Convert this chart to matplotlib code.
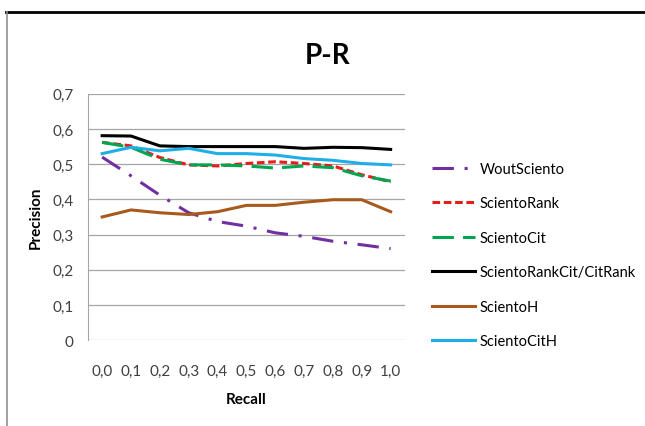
import matplotlib.pyplot as plt
from matplotlib.lines import Line2D
import numpy as np

plt.rcParams['font.family'] = ['Lato', 'DejaVu Sans']

# data
recall = ['0,0', '0,1', '0,2', '0,3', '0,4', '0,5', '0,6', '0,7', '0,8', '0,9', '1,0']
wout_sciento = [0.52, 0.467, 0.412, 0.362, 0.337, 0.324, 0.305, 0.295, 0.281, 0.271, 0.26]
sciento_rank = [0.562, 0.552, 0.519, 0.498, 0.495, 0.502, 0.507, 0.502, 0.495, 0.47, 0.45]
sciento_cit = [0.562, 0.548, 0.514, 0.498, 0.498, 0.495, 0.489, 0.495, 0.49, 0.467, 0.452]
sciento_rankcit = [0.581, 0.58, 0.552, 0.55, 0.55, 0.55, 0.55, 0.545, 0.548, 0.547, 0.542]
sciento_h = [0.35, 0.37, 0.362, 0.357, 0.365, 0.383, 0.383, 0.392, 0.399, 0.399, 0.365]
sciento_cith = [0.53, 0.548, 0.538, 0.545, 0.53, 0.53, 0.526, 0.516, 0.511, 0.502, 0.498]
yticks = [0, 0.1, 0.2, 0.3, 0.4, 0.5, 0.6, 0.7]
ytick_labels = ['0', '0,1', '0,2', '0,3', '0,4', '0,5', '0,6', '0,7']

fig = plt.figure(figsize=(6.45, 4.27), dpi=100)
ax = fig.add_axes([0.136, 0.201, 0.492, 0.577])

x = np.arange(len(recall))
lw = 2.2
ax.plot(x, wout_sciento, color='#7030A0', lw=lw, dashes=(7, 3.5, 1, 3.5), label='WoutSciento')
ax.plot(x, sciento_rank, color='#E0201B', lw=lw, dashes=(2.5, 1.2), label='ScientoRank')
ax.plot(x, sciento_cit, color='#00A550', lw=lw, dashes=(7, 3), label='ScientoCit')
ax.plot(x, sciento_rankcit, color='black', lw=lw, label='ScientoRankCit/CitRank')
ax.plot(x, sciento_h, color='#A8591C', lw=lw, label='ScientoH')
ax.plot(x, sciento_cith, color='#1FAEE5', lw=lw, label='ScientoCitH')

ax.set_xlim(-0.5, len(recall) - 0.5)
ax.set_ylim(0, 0.7)
ax.set_xticks(x)
ax.set_xticklabels(recall, fontsize=11, color='#404040')
ax.set_yticks(yticks)
ax.set_yticklabels(ytick_labels, fontsize=11, color='#404040')
ax.tick_params(axis='y', length=0, pad=10)
ax.tick_params(axis='x', length=0, pad=17)
ax.grid(axis='y', color='#A6A6A6', lw=0.9)
ax.set_axisbelow(True)
for s in ['top', 'right', 'bottom']:
    ax.spines[s].set_visible(False)
ax.spines['left'].set_color('#A6A6A6')
ax.set_xlabel('Recall', fontsize=11, fontweight='bold', labelpad=10)
ax.set_ylabel('Precision', fontsize=11, fontweight='bold', labelpad=7)

fig.text(0.508, 0.87, 'P-R', fontsize=20, fontweight='bold', ha='center', va='center')

ax.legend(loc='upper left', bbox_to_anchor=(0.66, 0.632), bbox_transform=fig.transFigure,
          frameon=False, fontsize=10.5, handlelength=3.0, handletextpad=0.3,
          labelspacing=1.4, borderaxespad=0)

# outer frame lines
fig.add_artist(Line2D([0.009, 1.0], [0.969, 0.969], color='black', lw=2, transform=fig.transFigure))
fig.add_artist(Line2D([0.011, 0.011], [0.0, 0.969], color='#909090', lw=1.2, transform=fig.transFigure))

fig.savefig('out.png', dpi=100)
